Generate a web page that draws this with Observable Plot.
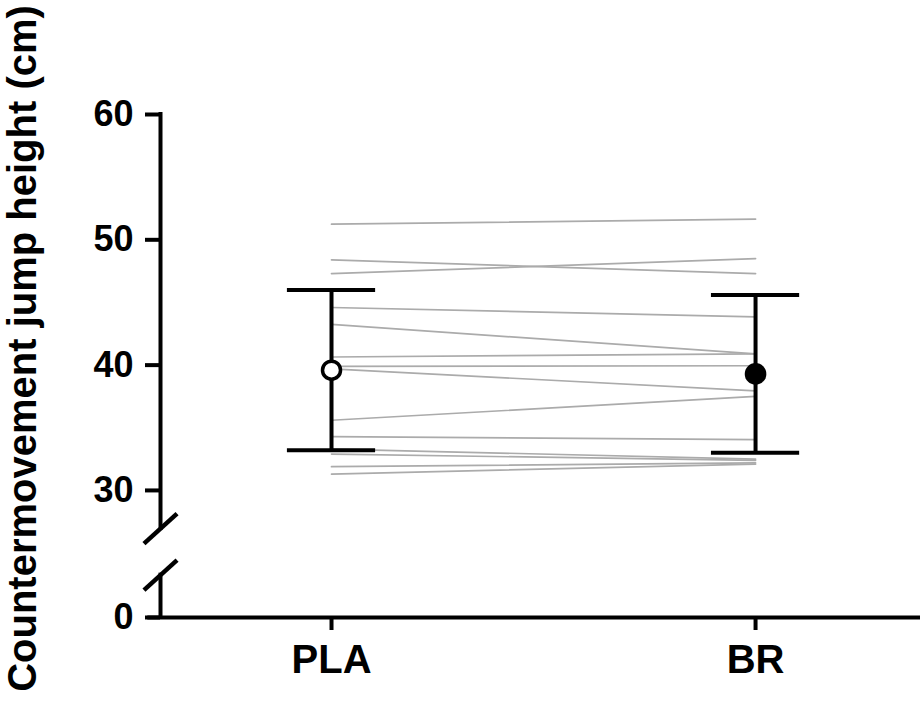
<!DOCTYPE html>
<html><head><meta charset="utf-8">
<script src="https://cdn.jsdelivr.net/npm/d3@7"></script>
<script src="https://cdn.jsdelivr.net/npm/@observablehq/plot@0.6"></script>
<style>
html,body{margin:0;padding:0;background:#fff;}
#chart svg{display:block;}
#chart g[aria-label="y-axis tick"], #chart g[aria-label="x-axis tick"] {stroke-width:4px; stroke:#000;}
</style></head><body><div id="chart"></div>
<script>
const categories = ["PLA", "BR"];
const plaValues = [51.25, 48.4, 47.3, 44.6, 43.25, 40.65, 39.9, 39.7, 35.6, 34.3, 33.3, 32.9, 31.9, 31.3];
const brValues  = [51.65, 47.3, 48.5, 43.85, 40.9, 40.9, 39.95, 37.95, 37.5, 34.05, 32.5, 32.4, 32.2, 32.1];
const means = [39.6, 39.3];
const sds = [6.4, 6.3];
const yTicks = [0, 30, 40, 50, 60];
const yLabel = "Countermovement jump height (cm)";
const axisBreak = [10, 21];

// broken axis: values below 30 are compressed into the segment under the break
const breakFrom = 30, zeroAt = 19.86;
const disp = v => v >= breakFrom ? v : zeroAt + v * (breakFrom - zeroAt) / breakFrom;

const long = plaValues.flatMap((v, i) => [
  {id: i, g: 0, v: disp(v)},
  {id: i, g: 1, v: disp(brValues[i])}
]);
const summary = categories.map((c, i) => ({g: i, name: c, mean: disp(means[i]), lo: disp(means[i] - sds[i]), hi: disp(means[i] + sds[i])}));
const tickPos = yTicks.map(disp);
const tickText = new Map(yTicks.map(t => [disp(t), String(t)]));

const font = '"Liberation Sans", Arial, sans-serif';
const xAxisAt = -0.4033;
const xEnd = 1.389;
const capHalf = 0.104;
const slashDx = 0.039, slashDy = 3.54;

const plot = Plot.plot({
  width: 920, height: 727,
  marginLeft: 160, marginRight: 0, marginTop: 79, marginBottom: 110,
  style: {fontFamily: font, background: "#fff", color: "#000", overflow: "visible"},
  x: {domain: [xAxisAt, xEnd]},
  y: {domain: [disp(0), 60], range: [617, 114]},
  marks: [
    Plot.line(long, {x: "g", y: "v", z: "id", stroke: "#ababab", strokeWidth: 1.7}),
    Plot.ruleX(summary, {x: "g", y1: "lo", y2: "hi", stroke: "#000", strokeWidth: 4}),
    Plot.ruleY(summary, {y: "lo", x1: d => d.g - capHalf, x2: d => d.g + capHalf, stroke: "#000", strokeWidth: 4}),
    Plot.ruleY(summary, {y: "hi", x1: d => d.g - capHalf, x2: d => d.g + capHalf, stroke: "#000", strokeWidth: 4}),
    Plot.dot(summary.filter(d => d.g === 0), {x: "g", y: "mean", r: 9, fill: "#fff", stroke: "#000", strokeWidth: 3.5}),
    Plot.dot(summary.filter(d => d.g === 1), {x: "g", y: "mean", r: 10.8, fill: "#000", stroke: "none"}),
    Plot.ruleX([{a: disp(60), b: disp(axisBreak[1])}, {a: disp(axisBreak[0]), b: disp(0)}], {x: () => xAxisAt, y1: "a", y2: "b", stroke: "#000", strokeWidth: 4, strokeLinecap: "square"}),
    Plot.ruleY([disp(0)], {x1: () => xAxisAt - 0.03, x2: () => xEnd, stroke: "#000", strokeWidth: 4}),
    Plot.link(axisBreak, {x1: () => xAxisAt - slashDx, x2: () => xAxisAt + slashDx, y1: d => disp(d - slashDy), y2: d => disp(d + slashDy), stroke: "#000", strokeWidth: 4.5}),
    Plot.axisY({ticks: tickPos, tickFormat: d => tickText.get(d), tickSize: 15, tickPadding: 12, fontSize: 36, fontWeight: "bold", stroke: "#000", strokeWidth: 4, label: null}),
    Plot.axisX({ticks: [0, 1], tickFormat: i => categories[i], tickSize: 13, tickPadding: 14, fontSize: 40, fontWeight: "bold", stroke: "#000", strokeWidth: 4, label: null}),
    Plot.text([yLabel], {frameAnchor: "left", rotate: -90, dx: -137, textAnchor: "middle", lineAnchor: "middle", fontSize: 40, fontWeight: "bold", fill: "#000"})
  ]
});
document.getElementById("chart").appendChild(plot);
</script></body></html>
